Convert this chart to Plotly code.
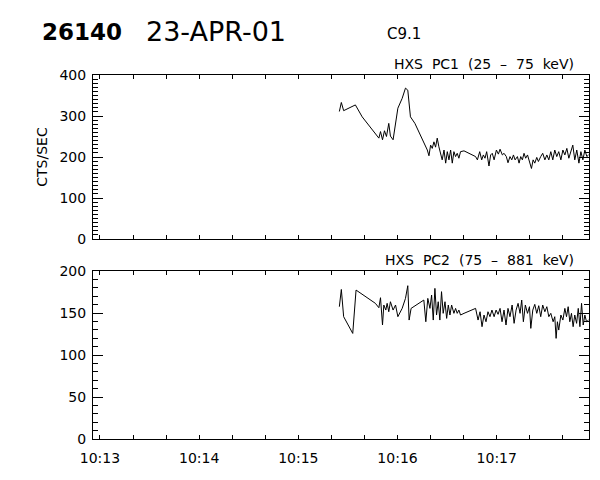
import pandas as pd
import plotly.graph_objects as go
from plotly.subplots import make_subplots

# ---- data (seconds after 10:13:00 UT, counts/sec) ----
base_time = "2001-04-23 10:13:00"
x_range_sec = [-4.2, 295.8]

pc1_t = [144.8, 146.0, 147.4, 154.5, 158.6, 168.7, 169.7, 170.9, 172.1, 173.3,
         174.7, 175.7, 177.3, 180.2, 182.8, 184.8, 186.2, 187.8, 190.5, 198.0,
         199.0, 200.0, 201.0, 202.0, 203.0, 204.0, 205.0, 206.0, 207.0, 208.1,
         209.1, 210.1, 211.1, 212.1, 213.1, 214.1, 215.1, 216.1, 217.1, 218.1,
         220.2, 227.2, 228.3, 229.7, 230.9, 231.9, 232.9, 233.9, 235.3, 236.3,
         237.3, 238.4, 239.8, 241.0, 242.0, 243.4, 244.4, 245.8, 246.8, 248.0,
         249.1, 250.1, 251.1, 252.5, 253.5, 254.5, 255.5, 256.5, 257.5, 258.6,
         260.0, 261.0, 262.0, 263.0, 264.2, 265.2, 266.6, 267.8, 269.1, 270.3,
         271.5, 272.7, 273.9, 275.1, 276.3, 277.5, 278.8, 280.0, 281.2, 282.4,
         283.6, 284.8, 286.0, 287.2, 288.4, 289.7, 290.9, 292.1, 293.3, 294.5,
         295.5]
pc1_v = [311, 333, 313, 327, 298, 246, 262, 242, 264, 250,
         282, 251, 242, 319, 343, 368, 363, 298, 282, 217,
         203, 229, 221, 237, 224, 246, 225, 209, 193, 217,
         185, 213, 193, 217, 185, 213, 201, 209, 197, 213,
         215, 201, 193, 213, 193, 205, 197, 213, 178, 205,
         209, 193, 217, 207, 219, 205, 209, 201, 186, 201,
         193, 205, 193, 201, 185, 201, 193, 209, 197, 205,
         185, 172, 193, 185, 199, 189, 201, 209, 193, 205,
         193, 213, 193, 217, 201, 213, 193, 217, 205, 221,
         197, 213, 229, 193, 217, 185, 213, 193, 217, 201,
         205]

pc2_t = [144.8, 146.0, 147.4, 152.9, 154.9, 166.6, 168.7, 169.7, 170.9, 171.7,
         172.9, 173.7, 174.7, 175.7, 177.3, 178.8, 180.2, 182.8, 184.8, 186.2,
         187.0, 188.2, 195.9, 197.1, 198.3, 199.6, 200.6, 201.6, 202.6, 203.6,
         204.6, 205.6, 206.6, 207.6, 208.7, 209.7, 210.7, 211.7, 212.7, 214.1,
         215.1, 216.1, 217.1, 218.1, 220.2, 227.2, 228.7, 229.9, 231.1, 232.3,
         233.5, 234.7, 235.9, 237.1, 238.4, 239.6, 240.8, 242.0, 243.2, 244.4,
         245.6, 246.8, 248.0, 249.3, 250.5, 251.7, 252.9, 254.1, 255.1, 256.1,
         257.3, 258.6, 259.8, 260.6, 261.8, 263.0, 264.2, 265.4, 266.6, 267.8,
         269.1, 270.3, 271.5, 272.7, 274.1, 275.1, 275.9, 276.7, 277.5, 278.8,
         280.0, 281.2, 282.2, 283.2, 284.2, 285.2, 286.2, 287.2, 288.3, 289.3,
         290.3, 291.3, 292.3, 293.3, 294.3, 295.5]
pc2_v = [157.5, 178.0, 145.6, 125.7, 177.3, 161.5, 156.3, 168.2, 135.7, 159.5,
         153.5, 161.5, 151.5, 163.4, 153.5, 159.5, 145.6, 155.5, 167.4, 182.5,
         141.6, 155.5, 165.4, 139.6, 167.4, 155.5, 171.4, 141.6, 179.3, 147.6,
         163.4, 141.6, 175.4, 149.6, 163.4, 143.6, 159.5, 147.6, 159.5, 149.6,
         155.5, 149.6, 153.5, 147.6, 149.6, 155.5, 141.6, 151.5, 133.7, 147.6,
         139.6, 151.5, 145.6, 153.5, 145.6, 153.5, 148.4, 155.5, 139.6, 153.5,
         135.7, 155.5, 145.6, 159.5, 137.7, 153.5, 161.5, 149.6, 165.4, 139.6,
         159.5, 149.6, 157.5, 131.7, 153.5, 160.3, 149.6, 158.7, 145.6, 159.5,
         151.5, 157.5, 145.6, 149.6, 139.6, 145.6, 119.8, 139.6, 129.7, 147.6,
         141.6, 155.5, 145.6, 157.5, 139.6, 149.6, 133.7, 147.6, 137.7, 155.5,
         133.7, 161.5, 135.7, 147.6, 139.6, 141.6]

pc1_yrange = [0, 400]
pc2_yrange = [0, 200]

title_id = "26140"
title_date = "23-APR-01"
title_class = "C9.1"
pc1_label = "HXS  PC1  (25  \u2013  75  keV)"
pc2_label = "HXS  PC2  (75  \u2013  881  keV)"
y_title = "CTS/SEC"

# ---- build ----
t0 = pd.Timestamp(base_time)
to_time = lambda secs: [t0 + pd.Timedelta(seconds=s) for s in secs]

FONT = "DejaVu Sans"
W, H = 600, 480
ML, MR, MT, MB = 93, 11, 75, 41
PH = H - MT - MB

def py(ypx):
    return (H - MB - ypx) / PH

def px(xpx):
    return (xpx - ML) / (W - ML - MR)

fig = make_subplots(rows=2, cols=1, shared_xaxes=False, vertical_spacing=0.0)
fig.add_trace(go.Scatter(x=to_time(pc1_t), y=pc1_v, mode="lines",
                         line=dict(color="black", width=1), showlegend=False), row=1, col=1)
fig.add_trace(go.Scatter(x=to_time(pc2_t), y=pc2_v, mode="lines",
                         line=dict(color="black", width=1), showlegend=False), row=2, col=1)

xr = to_time(x_range_sec)
xcommon = dict(type="date", range=xr, showline=True, linecolor="black", linewidth=1,
               mirror="ticks", ticks="inside", ticklen=4, tickcolor="black",
               tick0=base_time, dtick=60000, tickformat="%H:%M",
               minor=dict(dtick=20000, ticks="inside", ticklen=4, tickcolor="black"),
               showgrid=False, zeroline=False, automargin=False,
               tickfont=dict(family=FONT, size=14, color="black"),
               ticklabelstandoff=6)
ycommon = dict(showline=True, linecolor="black", linewidth=1, mirror="ticks",
               ticks="inside", ticklen=10, tickcolor="black",
               minor=dict(dtick=10, ticks="inside", ticklen=5, tickcolor="black"),
               showgrid=False, zeroline=False, automargin=False,
               tickfont=dict(family=FONT, size=14, color="black"),
               ticklabelstandoff=3)

fig.update_layout(
    width=W, height=H, margin=dict(l=ML, r=MR, t=MT, b=MB),
    paper_bgcolor="white", plot_bgcolor="white",
    font=dict(family=FONT, color="black"),
    xaxis=dict(**xcommon, domain=[0, 1], showticklabels=False, matches="x2"),
    xaxis2=dict(**xcommon, domain=[0, 1]),
    yaxis=dict(**ycommon, domain=[py(239), py(75)], range=pc1_yrange, dtick=100,
               title=dict(text=y_title, font=dict(family=FONT, size=14), standoff=8)),
    yaxis2=dict(**ycommon, domain=[py(439), py(271)], range=pc2_yrange, dtick=50),
)

ann = [
    dict(text=title_id, x=px(40), y=py(32), xanchor="left", yanchor="middle",
         font=dict(family=FONT, size=23, color="black", weight="bold")),
    dict(text=title_date, x=px(144), y=py(32), xanchor="left", yanchor="middle",
         font=dict(family=FONT, size=27, color="black")),
    dict(text=title_class, x=px(385), y=py(34), xanchor="left", yanchor="middle",
         font=dict(family=FONT, size=15, color="black")),
    dict(text=pc1_label, x=px(576), y=py(74), xanchor="right", yanchor="bottom",
         font=dict(family=FONT, size=14, color="black")),
    dict(text=pc2_label, x=px(576), y=py(270), xanchor="right", yanchor="bottom",
         font=dict(family=FONT, size=14, color="black")),
]
for a in ann:
    a.update(xref="paper", yref="paper", showarrow=False)
fig.update_layout(annotations=ann)

fig.write_html("out.html", config={"displayModeBar": False},
               post_script="document.body.style.margin='0';")
